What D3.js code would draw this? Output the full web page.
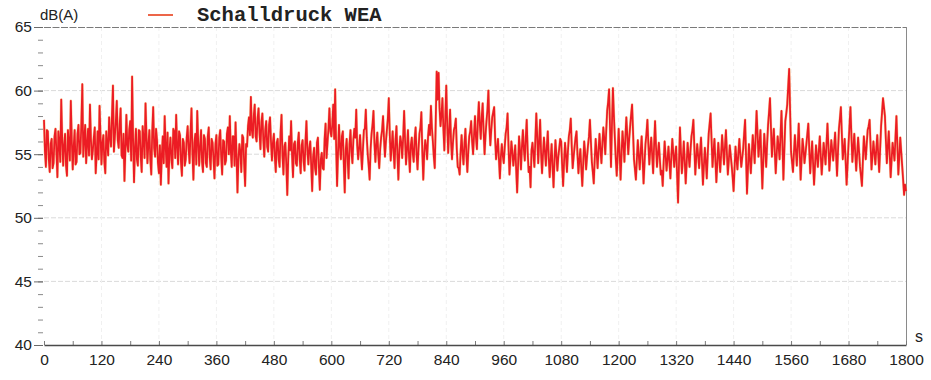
<!DOCTYPE html>
<html>
<head>
<meta charset="utf-8">
<script src="https://cdn.jsdelivr.net/npm/d3@7"></script>
<style>
  html, body { margin: 0; padding: 0; background: #fff; }
  svg { display: block; }
</style>
</head>
<body>
<svg id="chart" width="931" height="380"></svg>
<script>
// Schalldruckpegel der WEA in dB(A), 0 … 1800 s.
// levelsA: Werte bei t = 0, 4, 8, … 1800 s; levelsB: Werte bei t = 2, 6, 10, … 1798 s
const levelsA = [
  57.7,54.0,56.8,53.6,56.2,54.3,57.0,53.2,55.9,59.3,54.1,56.6,53.3,55.8,59.2,
  53.8,56.9,54.4,57.3,55.1,60.5,56.2,54.3,57.0,58.9,54.6,56.3,53.5,56.8,58.8,
  54.2,56.5,53.5,55.8,57.9,55.6,60.4,56.4,59.2,55.5,58.6,54.7,52.9,58.1,55.2,
  57.6,61.1,52.8,57.0,54.1,56.8,53.6,56.2,59.0,54.3,56.9,53.4,58.7,54.8,56.1,
  53.5,52.6,56.4,58.0,54.0,52.7,56.3,53.9,56.8,58.1,54.2,56.5,53.3,55.9,54.6,
  57.2,54.3,58.6,53.0,56.6,58.4,54.1,56.9,53.6,56.2,54.0,57.1,53.8,55.9,53.1,
  56.5,54.2,56.9,53.4,56.0,54.5,57.1,58.0,54.0,56.4,57.5,52.0,55.8,53.6,56.3,
  52.5,55.6,57.9,59.5,56.3,58.9,56.0,58.6,55.4,58.2,54.8,57.6,55.2,57.9,54.5,
  56.6,53.6,56.2,54.0,58.1,53.4,55.9,51.8,56.4,57.6,53.2,56.0,54.1,56.7,53.5,
  56.1,53.7,57.6,54.2,56.0,52.1,55.5,53.4,56.3,52.2,55.1,53.8,57.4,55.9,58.6,
  56.4,58.9,60.1,52.5,57.3,54.6,56.8,52.0,56.2,53.1,56.9,54.3,57.0,58.5,54.6,
  56.5,53.8,56.9,58.5,55.0,53.0,56.6,58.4,54.4,56.7,53.9,56.3,58.0,54.8,56.9,
  59.4,54.5,56.8,53.9,57.2,53.0,56.4,54.7,58.4,54.2,56.9,53.6,56.3,54.4,57.1,
  53.8,56.6,58.3,53.0,56.1,54.6,57.3,58.8,56.0,53.9,61.5,61.4,57.2,59.4,55.3,
  60.4,55.1,58.5,54.6,56.9,57.8,54.0,53.4,56.5,54.2,57.0,53.6,56.4,57.6,55.0,
  58.0,55.4,59.1,56.2,59.0,55.0,57.6,60.0,55.7,57.9,58.7,54.6,56.2,53.1,55.8,
  54.3,56.6,58.2,53.4,56.0,54.1,55.7,52.0,56.4,53.8,56.9,54.5,57.7,53.6,52.4,
  55.9,54.0,58.2,54.3,57.7,53.5,56.3,54.1,56.8,53.2,55.8,52.4,56.1,53.7,55.5,
  56.0,52.5,55.9,53.6,56.4,57.8,53.9,55.6,56.8,53.5,55.4,52.5,56.0,53.8,55.7,
  57.7,54.4,52.7,56.2,53.9,56.6,54.3,57.1,55.0,58.4,60.1,54.0,60.2,56.3,53.3,
  57.0,53.0,56.8,54.4,57.9,55.0,57.2,58.9,54.6,53.0,56.1,53.8,56.4,52.7,55.8,
  57.7,54.2,56.3,53.5,57.6,54.0,55.9,53.4,52.5,56.0,53.7,55.6,53.1,56.2,54.0,
  55.6,51.2,57.1,53.5,56.0,52.7,55.9,54.0,56.4,57.7,53.4,55.8,53.9,56.3,52.6,
  55.5,53.1,56.6,58.2,54.0,56.2,52.8,55.9,53.6,56.5,54.2,56.9,53.4,55.7,54.1,
  52.1,55.6,53.8,56.2,54.0,55.4,57.7,51.9,55.8,53.5,56.5,54.3,58.4,54.8,56.9,
  52.3,56.6,54.0,57.3,59.4,54.8,57.0,53.5,56.4,54.6,58.4,53.0,57.6,58.9,61.7,
  55.2,53.6,56.5,54.1,57.4,53.0,56.2,54.3,55.8,57.4,53.5,56.0,52.6,55.7,54.0,
  56.4,53.4,55.9,54.2,57.4,53.7,56.1,54.5,56.7,53.3,57.0,58.7,54.6,56.2,52.6,
  55.8,58.7,54.4,56.6,53.7,56.3,54.0,52.5,56.4,54.6,56.9,57.7,53.8,56.0,54.2,
  56.5,53.6,57.2,59.4,58.0,54.3,56.8,53.2,55.9,54.5,58.0,53.4,56.3,54.1,51.8,
  52.1
];
const levelsB = [
  55.2,56.9,54.6,55.8,53.9,56.4,55.1,56.8,54.4,56.2,55.7,54.1,56.9,54.5,56.1,
  55.6,54.2,56.6,55.0,57.4,54.8,57.3,55.8,54.9,56.2,55.3,57.1,55.0,54.6,56.4,
  55.9,54.4,56.8,54.9,56.3,58.1,55.2,57.6,56.1,57.3,54.9,56.6,55.4,55.7,56.9,
  54.5,56.3,55.5,54.6,56.9,54.8,57.2,54.7,56.4,55.8,54.6,56.7,55.5,57.0,54.3,
  55.7,54.9,54.3,55.6,56.7,55.3,54.6,57.0,54.7,55.6,56.8,54.4,56.2,54.1,56.3,
  55.4,56.7,55.1,55.9,54.2,56.0,55.6,54.4,56.5,54.3,56.4,54.8,56.2,54.6,55.8,
  54.1,56.3,54.8,56.1,54.2,56.6,55.0,55.3,56.4,54.1,55.0,54.6,55.2,56.5,54.2,
  55.8,57.2,56.5,56.9,58.0,56.4,57.8,56.7,57.5,56.1,56.9,55.6,57.3,56.0,55.9,
  54.8,55.9,54.6,56.7,54.9,55.6,54.2,54.6,55.3,54.9,55.8,54.3,55.9,54.6,55.7,
  54.5,56.0,55.3,55.5,54.1,54.8,53.9,55.9,54.0,54.6,53.9,56.2,54.7,57.0,56.8,
  57.3,56.2,55.7,55.1,55.6,56.4,54.3,55.3,54.6,55.8,55.2,56.1,56.3,55.7,55.5,
  55.1,55.4,57.0,56.3,54.1,55.4,57.3,55.9,55.8,55.0,55.4,56.9,56.2,56.0,57.8,
  56.6,55.6,55.2,56.1,55.0,55.3,55.9,56.3,56.1,55.4,55.0,55.7,55.1,56.2,55.0,
  55.4,57.1,55.2,55.1,55.6,56.4,56.5,57.1,54.8,57.6,59.3,58.6,58.1,57.0,57.9,
  57.3,56.9,56.0,55.9,57.2,55.4,53.9,55.2,55.1,55.8,55.0,55.2,56.8,56.0,56.5,
  56.3,57.6,57.4,57.9,56.8,56.5,58.5,57.3,56.9,58.3,56.3,55.4,54.6,54.8,54.9,
  55.5,57.1,55.6,54.7,55.2,54.8,53.8,54.2,55.3,55.6,55.4,56.3,55.2,54.0,55.3,
  55.0,56.1,56.4,56.0,55.1,55.0,55.2,55.6,54.7,54.6,54.0,54.5,54.9,54.8,56.2,
  54.1,54.4,54.9,55.2,56.9,55.6,54.8,56.3,55.0,54.6,53.9,54.3,55.1,54.8,56.4,
  56.0,53.6,54.6,55.1,55.3,55.4,55.8,56.2,56.8,59.1,57.0,57.3,58.1,54.6,55.0,
  55.1,55.0,55.8,56.3,56.5,56.2,58.1,56.8,53.8,54.6,54.9,55.2,54.6,54.3,56.6,
  55.8,55.4,54.9,55.7,55.6,55.1,54.6,53.7,54.4,54.9,54.6,54.4,54.8,55.1,54.9,
  53.4,54.3,55.2,54.6,54.4,54.3,54.9,55.3,56.9,55.6,54.7,54.9,55.2,54.4,54.1,
  54.4,55.0,57.4,56.1,55.2,54.5,54.3,54.8,55.0,55.4,55.6,55.1,54.5,54.9,53.2,
  53.9,54.6,55.1,55.0,54.7,56.6,54.8,53.9,54.6,55.0,55.5,56.4,56.6,55.8,54.6,
  54.5,55.4,55.8,58.3,57.1,56.0,55.2,55.0,55.6,56.5,55.7,55.4,58.2,60.3,58.4,
  54.4,55.1,55.3,55.7,55.2,54.6,55.4,55.0,56.6,55.4,54.8,54.3,54.1,54.8,55.3,
  54.9,54.6,55.1,55.8,55.6,54.9,55.3,55.6,55.0,55.2,57.8,56.6,55.4,54.4,54.2,
  57.2,56.5,55.5,55.1,55.0,55.2,53.3,54.5,55.5,55.8,57.2,55.7,54.9,55.1,55.4,
  55.0,55.4,58.3,58.7,56.1,55.6,55.0,54.6,55.2,56.3,55.7,54.8,55.2,53.0,52.6
];

const xTicks = [0,120,240,360,480,600,720,840,960,1080,1200,1320,1440,1560,1680,1800];
const yTicks = [40,45,50,55,60,65];
const seriesName = "Schalldruck WEA";
const yUnit = "dB(A)";
const xUnit = "s";

// one time series, 2 s spacing
const samples = [];
levelsA.forEach((v, i) => {
  samples.push({ t: i * 4, v });
  if (i < levelsB.length) samples.push({ t: i * 4 + 2, v: levelsB[i] });
});

const svg = d3.select("#chart");
const plotLeft = 44, plotRight = 906, plotTop = 27, plotBottom = 345;

const x = d3.scaleLinear().domain([0, 1800]).range([plotLeft, plotRight]);
const y = d3.scaleLinear().domain([40, 65]).range([plotBottom, plotTop]);

const labelFont = "'Liberation Sans', Arial, sans-serif";

// faint grid
const grid = svg.append("g");
grid.selectAll("line.h").data(yTicks.filter(v => v > 40 && v < 65)).join("line")
  .attr("x1", plotLeft).attr("x2", plotRight)
  .attr("y1", d => y(d)).attr("y2", d => y(d))
  .attr("stroke", "#dadada").attr("stroke-width", 1)
  .attr("stroke-dasharray", "5,2");
grid.selectAll("line.v").data(xTicks.filter(v => v > 0 && v < 1800)).join("line")
  .attr("x1", d => x(d)).attr("x2", d => x(d))
  .attr("y1", plotTop).attr("y2", plotBottom)
  .attr("stroke", "#f0f0f0").attr("stroke-width", 1)
  .attr("stroke-dasharray", "4,3");

// frame: dashed top edge, plain right edge
svg.append("line")
  .attr("x1", plotLeft).attr("x2", plotRight).attr("y1", plotTop + 0.5).attr("y2", plotTop + 0.5)
  .attr("stroke", "#7a7a7a").attr("stroke-width", 1).attr("stroke-dasharray", "7,1.5");
svg.append("line")
  .attr("x1", plotRight + 0.5).attr("x2", plotRight + 0.5).attr("y1", plotTop).attr("y2", plotBottom)
  .attr("stroke", "#8a8a8a").attr("stroke-width", 1);

// y axis: majors every 5 dB, minors every 1 dB, no spine
const yAxis = svg.append("g").attr("transform", `translate(${plotLeft - 1},0)`)
  .call(d3.axisLeft(y).tickValues(d3.range(40, 66, 1)).tickSize(5).tickFormat(""));
yAxis.select(".domain").remove();
yAxis.selectAll("line").attr("stroke", "#8a8a8a");
const yMajor = svg.append("g").attr("transform", `translate(${plotLeft - 1},0)`)
  .call(d3.axisLeft(y).tickValues(yTicks).tickSize(9).tickPadding(2).tickFormat(d3.format("d")));
yMajor.select(".domain").remove();
yMajor.selectAll("line").attr("stroke", "#6a6a6a");
yMajor.selectAll("text")
  .attr("font-family", labelFont).attr("font-size", 15.5).attr("fill", "#222");

// x axis: labels every 120 s, small inward ticks every 60 s
const xMinor = svg.append("g").attr("transform", `translate(0,${plotBottom})`)
  .call(d3.axisTop(x).tickValues(d3.range(0, 1801, 60)).tickSize(4).tickFormat(""));
xMinor.select(".domain").remove();
xMinor.selectAll("line").attr("stroke", "#7a7a7a");
const xAxis = svg.append("g").attr("transform", `translate(0,${plotBottom})`)
  .call(d3.axisBottom(x).tickValues(xTicks).tickSize(0).tickPadding(9).tickFormat(d3.format("d")));
xAxis.select(".domain").attr("stroke", "#4a4a4a").attr("stroke-width", 1.6);
xAxis.selectAll("text")
  .attr("font-family", labelFont).attr("font-size", 15.5).attr("fill", "#222");

// unit labels
svg.append("text").attr("x", plotLeft - 4).attr("y", 20)
  .attr("font-family", labelFont).attr("font-size", 15).attr("fill", "#222")
  .text(yUnit);
svg.append("text").attr("x", 915).attr("y", 342)
  .attr("font-family", labelFont).attr("font-size", 16).attr("fill", "#222")
  .text(xUnit);

// legend
svg.append("line").attr("x1", 148).attr("x2", 173).attr("y1", 15).attr("y2", 15)
  .attr("stroke", "#e8401c").attr("stroke-width", 1.6);
svg.append("text").attr("x", 197).attr("y", 20.5)
  .attr("font-family", "'Liberation Mono', 'Courier New', monospace")
  .attr("font-weight", "bold").attr("font-size", 20.5).attr("fill", "#222")
  .text(seriesName);

// level trace: a soft orange halo under the red line
const line = d3.line()
  .x(d => x(d.t))
  .y(d => y(d.v));
svg.append("path").datum(samples)
  .attr("d", line)
  .attr("fill", "none")
  .attr("stroke", "#f29a3a")
  .attr("stroke-opacity", 0.5)
  .attr("stroke-width", 2.6)
  .attr("stroke-linejoin", "round");
svg.append("path").datum(samples)
  .attr("d", line)
  .attr("fill", "none")
  .attr("stroke", "#ec1c24")
  .attr("stroke-width", 1.75)
  .attr("stroke-linejoin", "round");
</script>
</body>
</html>
